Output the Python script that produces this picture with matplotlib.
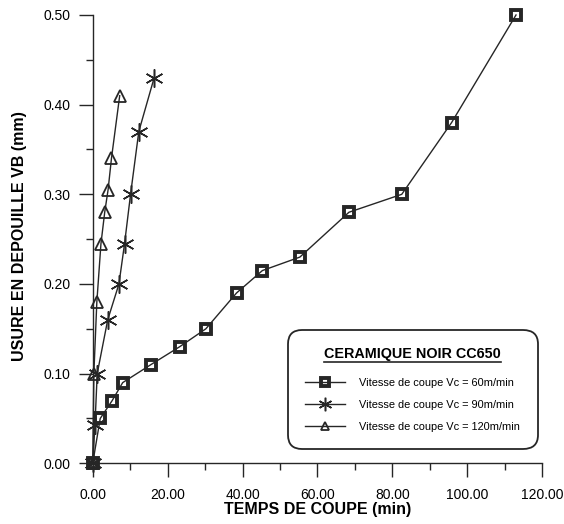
import numpy as np
import matplotlib
matplotlib.use('Agg')
import matplotlib.pyplot as plt
from matplotlib.lines import Line2D
from matplotlib.ticker import MultipleLocator, FormatStrFormatter

plt.rcParams['font.family'] = ['Liberation Sans', 'DejaVu Sans']

# usure VB (mm) en fonction du temps de coupe (min)
t_60 = [0.0, 2.0, 5.2, 8.0, 15.5, 23.2, 30.2, 38.4, 45.3, 55.3, 68.4, 82.5, 95.8, 113.0]
vb_60 = [0.0, 0.05, 0.07, 0.09, 0.11, 0.13, 0.15, 0.19, 0.215, 0.23, 0.28, 0.30, 0.38, 0.50]

t_90 = [0.0, 0.6, 1.2, 4.0, 7.0, 8.5, 10.1, 12.3, 16.4]
vb_90 = [0.0, 0.043, 0.10, 0.16, 0.20, 0.245, 0.30, 0.37, 0.43]

t_120 = [0.0, 0.3, 1.1, 2.2, 3.2, 4.1, 5.0, 7.2]
vb_120 = [0.0, 0.10, 0.18, 0.245, 0.28, 0.305, 0.34, 0.41]

labels = ['Vitesse de coupe Vc = 60m/min',
          'Vitesse de coupe Vc = 90m/min',
          'Vitesse de coupe Vc = 120m/min']
legend_title = 'CERAMIQUE NOIR CC650'

ink = '#262626'
asterisk = (6, 2, 0)

fig = plt.figure(figsize=(5.64, 5.24), dpi=100)
ax = fig.add_axes([0.1644, 0.1158, 0.797, 0.8556])

l120, = ax.plot(t_120, vb_120, color=ink, lw=1.0, marker='^', ms=8, mfc='none',
                mec=ink, mew=1.3, clip_on=False, zorder=3)
l90, = ax.plot(t_90, vb_90, color=ink, lw=1.0, marker=asterisk, ms=13,
               mec=ink, mew=1.1, clip_on=False, zorder=3)
l60, = ax.plot(t_60, vb_60, color=ink, lw=1.0, marker='s', ms=6.8, mfc='none',
               mec=ink, mew=2.8, clip_on=False, zorder=4)

ax.set_xlim(0, 120)
ax.set_ylim(0, 0.5)
ax.xaxis.set_major_locator(MultipleLocator(20))
ax.xaxis.set_minor_locator(MultipleLocator(10))
ax.yaxis.set_major_locator(MultipleLocator(0.1))
ax.yaxis.set_minor_locator(MultipleLocator(0.05))
ax.xaxis.set_major_formatter(FormatStrFormatter('%.2f'))
ax.yaxis.set_major_formatter(FormatStrFormatter('%.2f'))

for s in ['top', 'right']:
    ax.spines[s].set_visible(False)
for s in ['left', 'bottom']:
    ax.spines[s].set_color(ink)
    ax.spines[s].set_linewidth(1.0)

ax.tick_params(which='major', length=10, width=1.0, color=ink, labelsize=10)
ax.tick_params(which='minor', length=5, width=1.0, color=ink)
ax.tick_params(axis='x', which='major', pad=8)
ax.tick_params(axis='y', which='major', pad=6)

ax.set_xlabel('TEMPS DE COUPE (min)', fontsize=11.5, fontweight='bold', labelpad=0)
ax.set_ylabel('USURE EN DEPOUILLE VB (mm)', fontsize=11.5, fontweight='bold')
ax.yaxis.set_label_coords(-0.147, 0.507)

leg = ax.legend([l60, l90, l120], labels,
                loc='lower right', bbox_to_anchor=(1.002, 0.019),
                fontsize=7.9, title=legend_title,
                title_fontproperties={'weight': 'bold', 'size': 10.4},
                frameon=True, fancybox=True, handlelength=3.6,
                handletextpad=1.3, labelspacing=1.08, borderpad=1.6,
                markerscale=0.75)
frame = leg.get_frame()
frame.set_edgecolor(ink)
frame.set_linewidth(1.3)
frame.set_alpha(1)
frame.set_boxstyle('round,pad=0,rounding_size=1.3')
leg._legend_box.sep = 12

# souligner le titre de la légende
fig.canvas.draw()
tb = leg.get_title().get_window_extent().transformed(fig.transFigure.inverted())
fig.add_artist(Line2D([tb.x0, tb.x1], [tb.y0 - 0.002, tb.y0 - 0.002],
                      transform=fig.transFigure, color=ink, lw=1.2))

fig.savefig('out.png', dpi=100)
